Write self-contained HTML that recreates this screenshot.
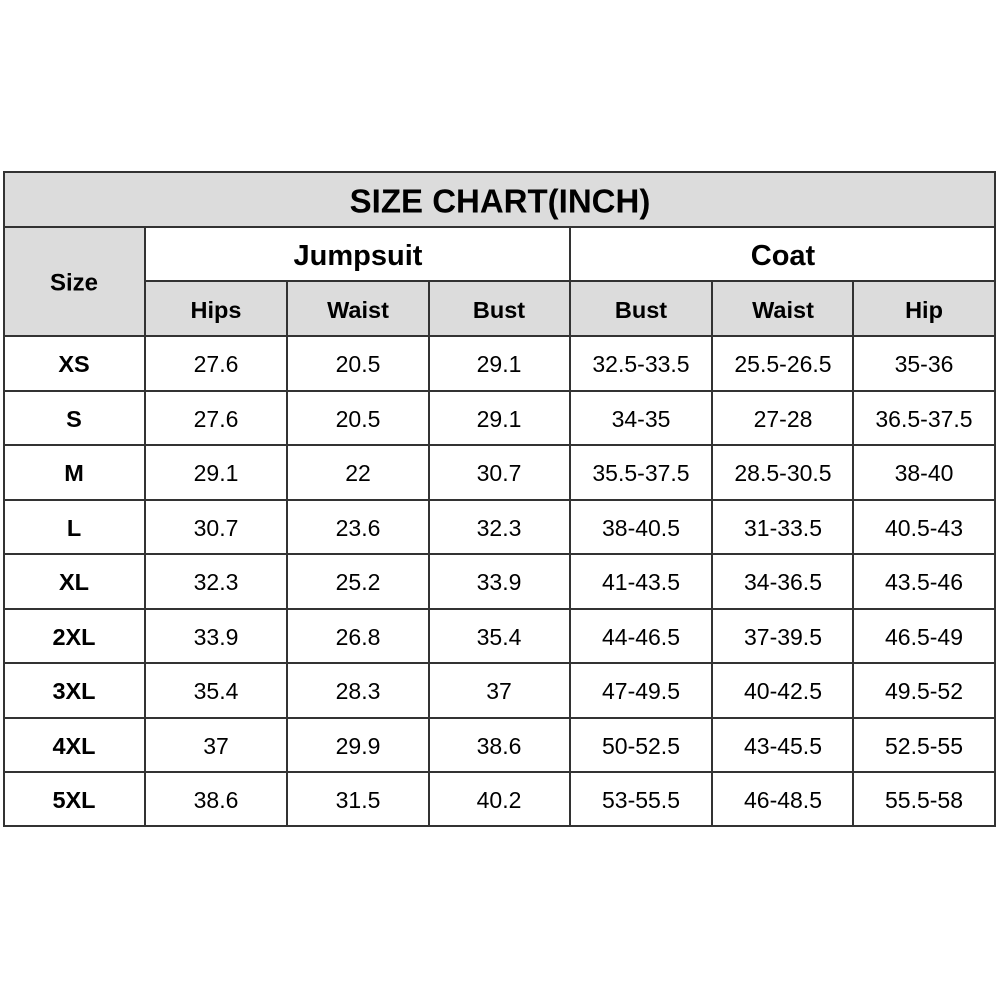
<!DOCTYPE html>
<html><head><style>body{margin:0;background:#fff}svg{display:block}text{font-family:"Liberation Sans",Arial,sans-serif;fill:#000;text-anchor:middle;dominant-baseline:central}</style></head><body>
<svg width="1000" height="1000" viewBox="0 0 1000 1000">
<rect x="4" y="172" width="991" height="55" fill="#dcdcdc"/>
<rect x="4" y="227" width="141" height="109" fill="#dcdcdc"/>
<rect x="145" y="281" width="850" height="55" fill="#dcdcdc"/>
<g stroke="#333" stroke-width="2" fill="none">
<rect x="4" y="172" width="991" height="654"/>
<line x1="4" y1="227" x2="995" y2="227"/>
<line x1="145" y1="281" x2="995" y2="281"/>
<line x1="4" y1="336" x2="995" y2="336"/>
<line x1="4" y1="391" x2="995" y2="391"/>
<line x1="4" y1="445" x2="995" y2="445"/>
<line x1="4" y1="500" x2="995" y2="500"/>
<line x1="4" y1="554" x2="995" y2="554"/>
<line x1="4" y1="609" x2="995" y2="609"/>
<line x1="4" y1="663" x2="995" y2="663"/>
<line x1="4" y1="718" x2="995" y2="718"/>
<line x1="4" y1="772" x2="995" y2="772"/>
<line x1="145" y1="227" x2="145" y2="826"/>
<line x1="570" y1="227" x2="570" y2="826"/>
<line x1="287" y1="281" x2="287" y2="826"/>
<line x1="429" y1="281" x2="429" y2="826"/>
<line x1="712" y1="281" x2="712" y2="826"/>
<line x1="853" y1="281" x2="853" y2="826"/>
</g>
<g font-weight="bold">
<text x="500" y="201" font-size="33">SIZE CHART(INCH)</text>
<text x="358" y="256" font-size="29">Jumpsuit</text>
<text x="783" y="256" font-size="29">Coat</text>
<text x="74" y="283" font-size="24">Size</text>
<g font-size="23.5">
<text x="216" y="310">Hips</text><text x="358" y="310">Waist</text><text x="499" y="310">Bust</text>
<text x="641" y="310">Bust</text><text x="783" y="310">Waist</text><text x="924" y="310">Hip</text>
<text x="74" y="364">XS</text><text x="74" y="419">S</text><text x="74" y="473">M</text><text x="74" y="528">L</text><text x="74" y="582">XL</text><text x="74" y="637">2XL</text><text x="74" y="691">3XL</text><text x="74" y="746">4XL</text><text x="74" y="800">5XL</text>
</g></g>
<g font-size="23">
<text x="216" y="364">27.6</text><text x="358" y="364">20.5</text><text x="499" y="364">29.1</text><text x="641" y="364">32.5-33.5</text><text x="783" y="364">25.5-26.5</text><text x="924" y="364">35-36</text>
<text x="216" y="419">27.6</text><text x="358" y="419">20.5</text><text x="499" y="419">29.1</text><text x="641" y="419">34-35</text><text x="783" y="419">27-28</text><text x="924" y="419">36.5-37.5</text>
<text x="216" y="473">29.1</text><text x="358" y="473">22</text><text x="499" y="473">30.7</text><text x="641" y="473">35.5-37.5</text><text x="783" y="473">28.5-30.5</text><text x="924" y="473">38-40</text>
<text x="216" y="528">30.7</text><text x="358" y="528">23.6</text><text x="499" y="528">32.3</text><text x="641" y="528">38-40.5</text><text x="783" y="528">31-33.5</text><text x="924" y="528">40.5-43</text>
<text x="216" y="582">32.3</text><text x="358" y="582">25.2</text><text x="499" y="582">33.9</text><text x="641" y="582">41-43.5</text><text x="783" y="582">34-36.5</text><text x="924" y="582">43.5-46</text>
<text x="216" y="637">33.9</text><text x="358" y="637">26.8</text><text x="499" y="637">35.4</text><text x="641" y="637">44-46.5</text><text x="783" y="637">37-39.5</text><text x="924" y="637">46.5-49</text>
<text x="216" y="691">35.4</text><text x="358" y="691">28.3</text><text x="499" y="691">37</text><text x="641" y="691">47-49.5</text><text x="783" y="691">40-42.5</text><text x="924" y="691">49.5-52</text>
<text x="216" y="746">37</text><text x="358" y="746">29.9</text><text x="499" y="746">38.6</text><text x="641" y="746">50-52.5</text><text x="783" y="746">43-45.5</text><text x="924" y="746">52.5-55</text>
<text x="216" y="800">38.6</text><text x="358" y="800">31.5</text><text x="499" y="800">40.2</text><text x="641" y="800">53-55.5</text><text x="783" y="800">46-48.5</text><text x="924" y="800">55.5-58</text>
</g>
</svg>
</body></html>
